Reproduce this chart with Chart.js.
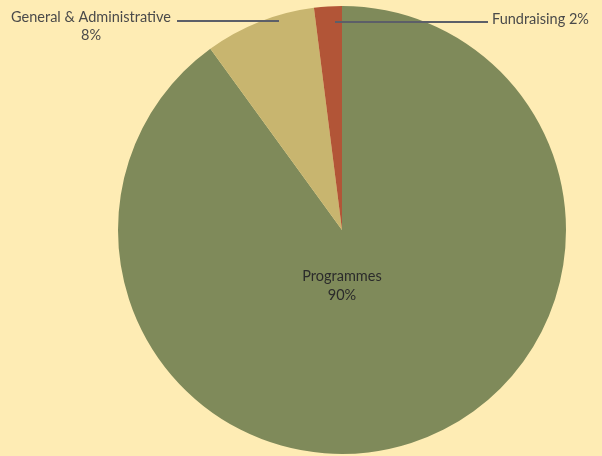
<!DOCTYPE html>
<html>
<head>
<meta charset="utf-8">
<script src="https://cdn.jsdelivr.net/npm/chart.js@4.4.1/dist/chart.umd.min.js"></script>
<style>
html,body{margin:0;padding:0;background:#feecb4;}
canvas{display:block;}
</style>
</head>
<body>
<canvas id="c" width="602" height="456"></canvas>
<script>
const categories = ["Programmes", "General & Administrative", "Fundraising"];
const values = [90, 8, 2];
const colors = ["#7f8a5a", "#c8b56f", "#b25537"];

const labelPlugin = {
  id: 'labels',
  afterDatasetsDraw(chart) {
    const ctx = chart.ctx;
    const arcs = chart.getDatasetMeta(0).data;
    ctx.save();
    ctx.font = '14.5px Lato, "Open Sans", sans-serif';
    ctx.textBaseline = 'middle';
    const a0 = arcs[0];
    ctx.fillStyle = '#2b2b2b';
    ctx.textAlign = 'center';
    ctx.fillText(categories[0], a0.x, a0.y + 46);
    ctx.fillText(values[0] + '%', a0.x, a0.y + 65);
    ctx.strokeStyle = '#5c5f68';
    ctx.lineWidth = 2;
    ctx.beginPath();
    ctx.moveTo(177, 21);
    ctx.lineTo(279, 21);
    ctx.stroke();
    ctx.fillStyle = '#4a4a4a';
    ctx.textAlign = 'center';
    ctx.fillText(categories[1], 91, 17);
    ctx.fillText(values[1] + '%', 91, 35);
    ctx.beginPath();
    ctx.moveTo(335, 22);
    ctx.lineTo(488, 22);
    ctx.stroke();
    ctx.textAlign = 'left';
    ctx.fillText(categories[2] + ' ' + values[2] + '%', 492, 19);
    ctx.restore();
  }
};

new Chart(document.getElementById('c'), {
  type: 'pie',
  data: {
    labels: categories,
    datasets: [{
      data: values,
      backgroundColor: colors,
      borderWidth: 0
    }]
  },
  options: {
    responsive: false,
    animation: false,
    layout: { padding: { left: 118, right: 36, top: 6, bottom: 2 } },
    plugins: { legend: { display: false }, tooltip: { enabled: false } }
  },
  plugins: [labelPlugin]
});
</script>
</body>
</html>
